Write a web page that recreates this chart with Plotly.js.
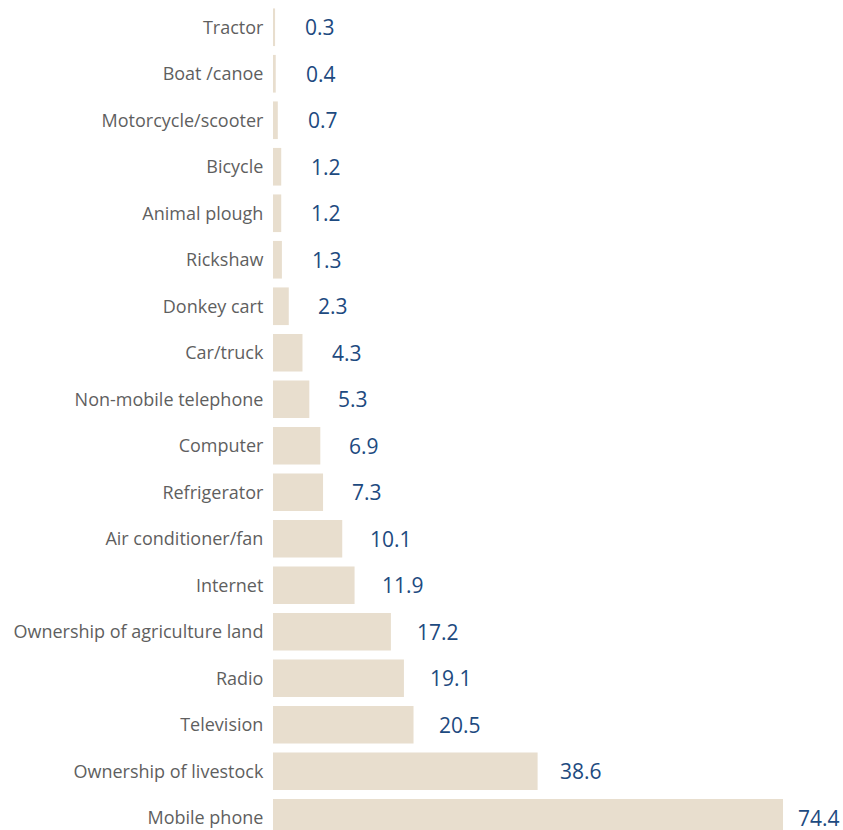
<!DOCTYPE html>
<html>
<head>
<meta charset="utf-8">
<script src="https://cdn.plot.ly/plotly-3.0.1.min.js"></script>
<style>
html,body{margin:0;padding:0;overflow:hidden;background:#fff;}
#chart{width:843px;height:841px;}
</style>
</head>
<body>
<div id="chart"></div>
<script>
var categories = ["Tractor","Boat /canoe","Motorcycle/scooter","Bicycle","Animal plough","Rickshaw","Donkey cart","Car/truck","Non-mobile telephone","Computer","Refrigerator","Air conditioner/fan","Internet","Ownership of agriculture land","Radio","Television","Ownership of livestock","Mobile phone"];
var values = [0.3,0.4,0.7,1.2,1.2,1.3,2.3,4.3,5.3,6.9,7.3,10.1,11.9,17.2,19.1,20.5,38.6,74.4];
var valueLabels = ["0.3","0.4","0.7","1.2","1.2","1.3","2.3","4.3","5.3","6.9","7.3","10.1","11.9","17.2","19.1","20.5","38.6","74.4"];

var trace = {
  type: 'bar',
  orientation: 'h',
  x: values,
  y: categories,
  marker: {color: '#e8dece'},
  hoverinfo: 'none'
};

var annotations = values.map(function(v, i){
  return {
    x: v, y: categories[i], xref: 'x2', yref: 'y',
    text: valueLabels[i], showarrow: false, xanchor: 'left', yanchor: 'middle',
    font: {family: 'Open Sans, sans-serif', size: 21, color: '#1d4a80'}
  };
});

var layout = {
  width: 843, height: 841,
  margin: {l: 273, r: 0, t: 4, b: 0, pad: 0},
  paper_bgcolor: '#ffffff', plot_bgcolor: '#ffffff',
  showlegend: false,
  bargap: 0.19,
  xaxis: {range: [0, 83.15], visible: false, fixedrange: true},
  xaxis2: {range: [-4.21, 81.47], overlaying: 'x', visible: false, fixedrange: true},
  yaxis: {
    type: 'category', autorange: false, range: [17.5, -0.5],
    showgrid: false, zeroline: false, showline: false,
    ticks: 'outside', ticklen: 5, tickcolor: 'rgba(0,0,0,0)',
    tickfont: {family: 'Open Sans, sans-serif', size: 18, color: '#5f5f5f'},
    fixedrange: true
  },
  annotations: annotations
};

Plotly.newPlot('chart', [trace], layout, {displayModeBar: false, staticPlot: true});
</script>
</body>
</html>
